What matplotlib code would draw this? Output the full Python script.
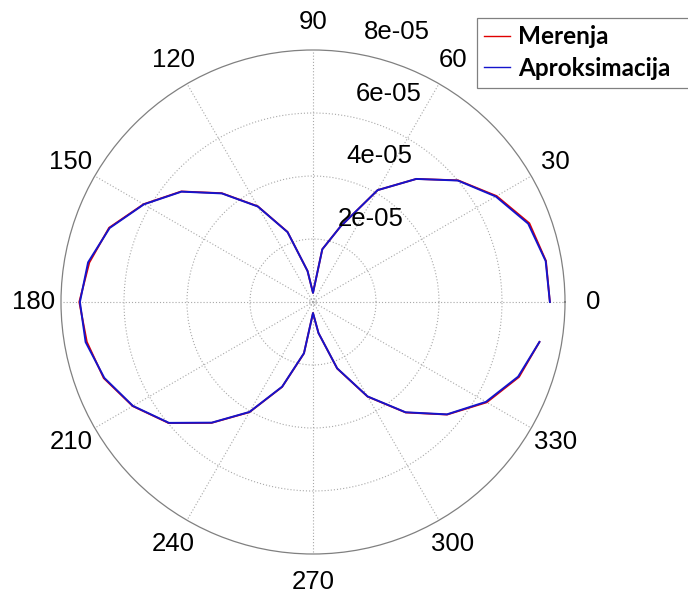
import numpy as np
import matplotlib.pyplot as plt
from matplotlib.patches import Rectangle

# Uglovi (stepeni) i izmerene / aproksimirane vrednosti
ugao = np.arange(0, 360, 10)

merenja = [7.52, 7.51, 7.31, 6.73, 6.01, 5.10, 4.10, 2.55, 1.70, 0.29,
           1.00, 2.37, 3.51, 4.51, 5.46, 6.21, 6.89, 7.21, 7.42, 7.29,
           7.07, 6.61, 5.98, 5.01, 4.04, 2.87, 1.66, 0.35, 1.00, 2.25,
           3.47, 4.58, 5.56, 6.37, 6.96, 7.30]

aproksimacija = [7.52, 7.50, 7.27, 6.70, 6.00, 5.10, 4.10, 2.55, 1.70, 0.29,
                 1.00, 2.36, 3.50, 4.50, 5.45, 6.20, 6.87, 7.25, 7.40, 7.33,
                 7.05, 6.60, 5.97, 5.00, 4.03, 2.86, 1.65, 0.35, 1.00, 2.24,
                 3.46, 4.57, 5.55, 6.34, 6.93, 7.30]

r_krugovi = [2e-5, 4e-5, 6e-5, 8e-5]
r_oznake = ["2e-05", "4e-05", "6e-05", "8e-05"]
ugao_oznake = list(range(0, 360, 30))


def main():
    plt.rcParams["font.family"] = ["Liberation Sans", "DejaVu Sans"]
    fig = plt.figure(figsize=(6.88, 5.94), dpi=100)
    ax = fig.add_axes([61 / 688, 40 / 594, 504 / 688, 504 / 594], projection="polar")

    th = np.deg2rad(ugao)
    ax.plot(th, np.array(merenja) * 1e-5, color="#e00000", lw=1.3, label="Merenja")
    ax.plot(th, np.array(aproksimacija) * 1e-5, color="#1414cc", lw=1.4, label="Aproksimacija")

    rmax = r_krugovi[-1]
    ax.set_rlim(0, rmax)
    ax.set_rgrids(r_krugovi[:-1], labels=[""] * 3)
    ax.set_thetagrids(ugao_oznake, labels=[""] * len(ugao_oznake))
    ax.grid(True, color="#a8a8a8", linestyle=(0, (1, 1.8)), linewidth=0.8)
    ax.spines["polar"].set_color("#808080")
    ax.spines["polar"].set_linewidth(0.9)
    ax.tick_params(length=0)

    # mali krug u centru
    tt = np.linspace(0, 2 * np.pi, 60)
    ax.plot(tt, np.full_like(tt, 1e-6), color="#a8a8a8", linestyle=(0, (1, 1.8)), lw=0.8)

    # oznake uglova
    for a in ugao_oznake:
        ax.text(np.deg2rad(a), rmax * 1.11, str(a), ha="center", va="center",
                fontsize=18.5, clip_on=False)

    # oznake poluprecnika
    for r, s in zip(r_krugovi, r_oznake):
        ax.annotate(s, xy=(np.deg2rad(82), r), xytext=(11.5, 15),
                    textcoords="offset points", ha="left", va="center",
                    fontsize=18.5, annotation_clip=False)

    # okvir legende, desna ivica izlazi van slike
    fig.add_artist(Rectangle((477 / 688, 1 - 88 / 594), 240 / 688, 70 / 594,
                             transform=fig.transFigure, facecolor="white",
                             edgecolor="#808080", linewidth=0.9, zorder=4))
    leg = fig.legend(loc="upper left", bbox_to_anchor=(477 / 688, 1 - 18 / 594),
                     bbox_transform=fig.transFigure, frameon=False, borderaxespad=0,
                     borderpad=0.3, handlelength=1.05, handletextpad=0.35,
                     labelspacing=0.35, prop={"family": "Lato", "weight": "bold", "size": 17.5})
    leg.set_zorder(5)
    for ln in leg.get_lines():
        ln.set_linewidth(1.0)

    fig.savefig("out.png", dpi=100)
    plt.close(fig)


if __name__ == "__main__":
    main()
